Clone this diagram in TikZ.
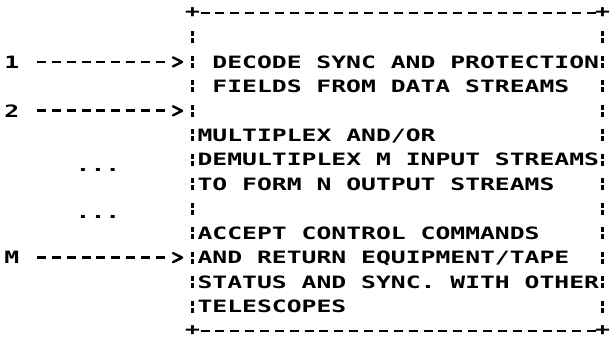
\documentclass[tikz,border=0pt]{standalone}
\usepackage{fontspec}
\newfontfamily\plotfont{DejaVu Sans Mono}[FakeStretch=1.453]
\usetikzlibrary{calc}
\tikzset{
  txt/.style={font=\plotfont\bfseries\fontsize{17}{20}\selectfont, inner sep=0pt, outer sep=0pt, text=black},
  hbar/.style={line width=2.8pt, dash pattern=on 9pt off 5.87pt},
  vbar/.style={line width=2.7pt, dash pattern=on 5pt off 2pt on 5pt off 12.46pt},
  conn/.style={line width=2.8pt, dash pattern=on 9pt off 5.87pt, shorten <=25.2pt, shorten >=27.6pt},
  chev/.style={line width=2.5pt, line join=round, line cap=round},
  boxshape/.style={minimum width=410pt, minimum height=318pt, inner sep=0pt, outer sep=0pt, draw=none}
}
\begin{document}
\begin{tikzpicture}[x=1pt, y=-1pt]
\fill[white] (0,0) rectangle (614,343);
\useasboundingbox (0,0) rectangle (614,343);

% box frame
\node[boxshape] (box) at (397.5,172) {};
\draw[hbar, shorten <=8pt, shorten >=6.5pt] (box.north west) -- (box.north east);
\draw[hbar, shorten <=8pt, shorten >=6.5pt] (box.south west) -- (box.south east);
\draw[vbar] ($(box.north west)+(0,18.46)$) -- ($(box.south west)+(0,-18.46)$);
\draw[vbar] ($(box.north east)+(0,18.46)$) -- ($(box.south east)+(0,-18.46)$);
\node[txt] (ctl) at (box.north west) {+};
\node[txt] (ctr) at (box.north east) {+};
\node[txt] (cbl) at (box.south west) {+};
\node[txt] (cbr) at (box.south east) {+};

% texts inside the box
\node[txt, anchor=base west] (l1) at (212.4,68.12) {DECODE SYNC AND PROTECTION};
\node[txt, anchor=base west] (l2) at (212.4,92.58) {FIELDS FROM DATA STREAMS};
\node[txt, anchor=base west] (l3) at (197.6,141.5) {MULTIPLEX AND/OR};
\node[txt, anchor=base west] (l4) at (197.6,165.96) {DEMULTIPLEX M INPUT STREAMS};
\node[txt, anchor=base west] (l5) at (197.6,190.42) {TO FORM N OUTPUT STREAMS};
\node[txt, anchor=base west] (l6) at (197.6,239.34) {ACCEPT CONTROL COMMANDS};
\node[txt, anchor=base west] (l7) at (197.6,263.8) {AND RETURN EQUIPMENT/TAPE};
\node[txt, anchor=base west] (l8) at (197.6,288.26) {STATUS AND SYNC. WITH OTHER};
\node[txt, anchor=base west] (l9) at (197.6,312.72) {TELESCOPES};

% inputs
\node[txt] (in1) at (11.7,61.92) {1};
\node[txt] (in2) at (11.7,110.84) {2};
\node[txt] (inM) at (11.7,257.6) {M};
\node[txt] (dots1) at (98,170) {...};
\node[txt] (dots2) at (98,217) {...};

\foreach \n in {in1,in2,inM}{
  \draw[conn] (\n.center) -- (\n.center -| box.west);
  \draw[chev] ($(\n.center -| box.west)+(-19.5,-4.5)$) -- ++(9,4.5) -- ++(-9,4.5);
}
\end{tikzpicture}
\end{document}
